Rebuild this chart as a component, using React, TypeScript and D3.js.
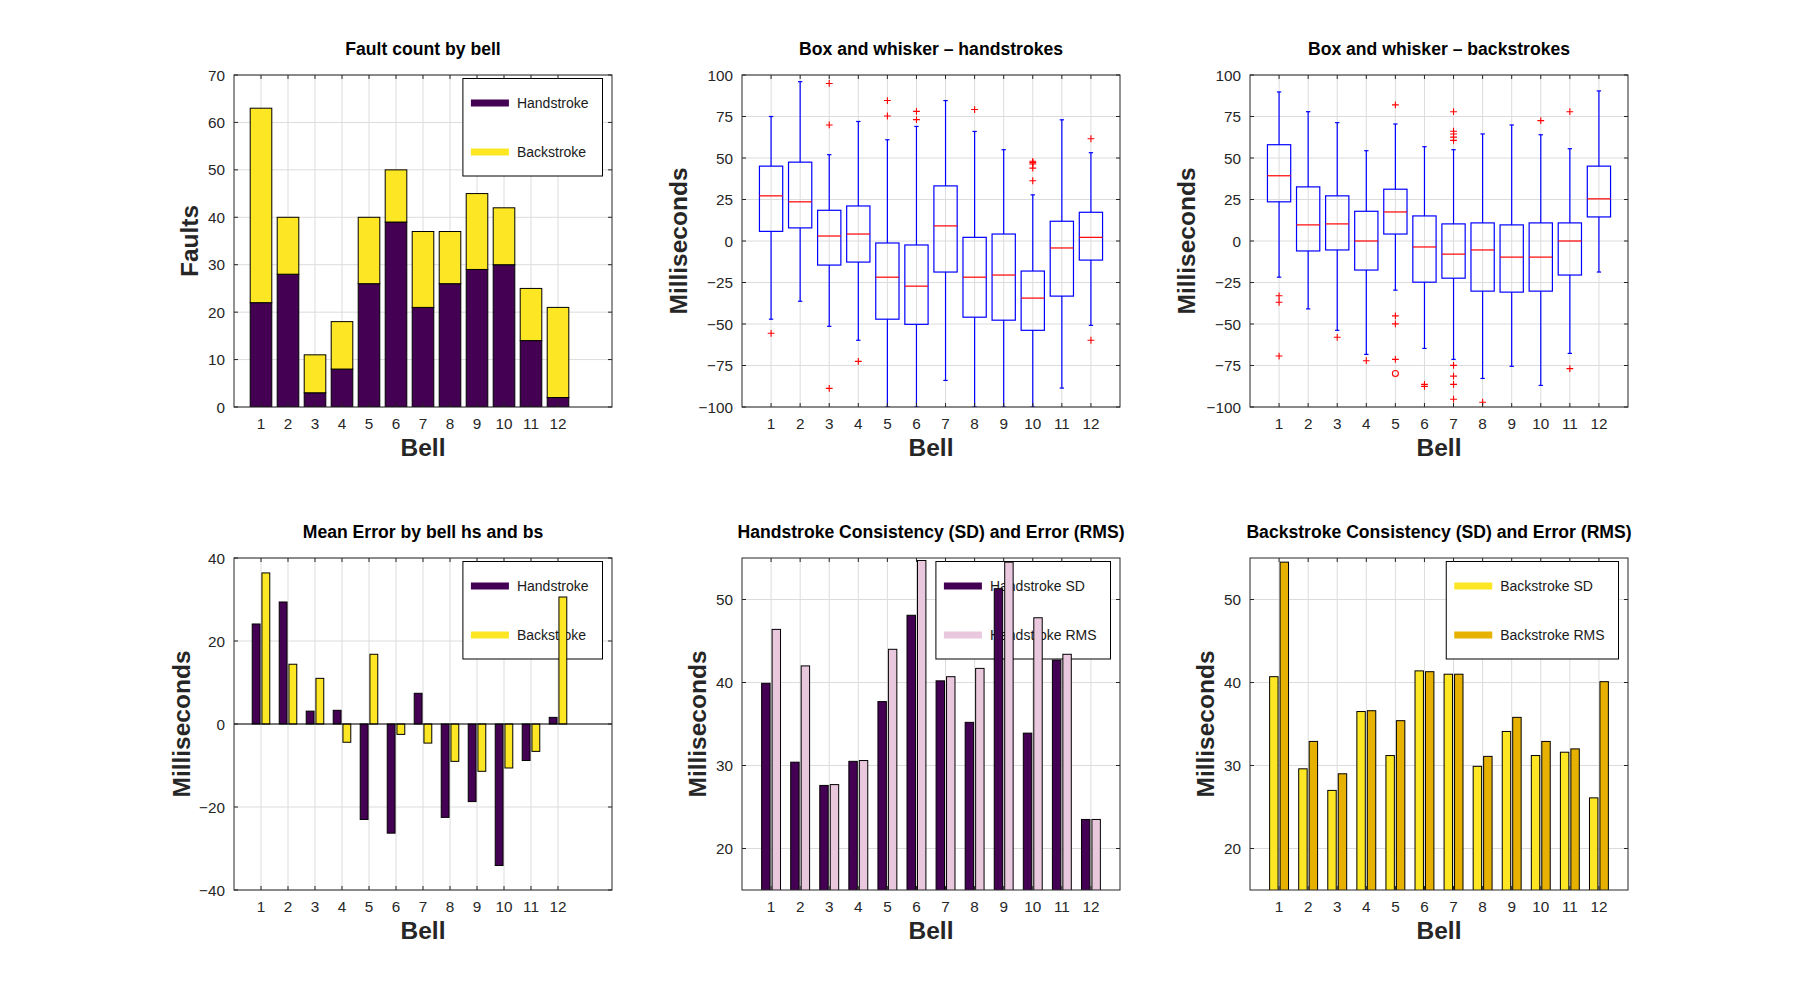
import React, { useRef, useEffect } from 'react';
import * as d3 from 'd3';

// ---- data ----
const bells = [1, 2, 3, 4, 5, 6, 7, 8, 9, 10, 11, 12];

// fault counts (stacked)
const faultHand = [22, 28, 3, 8, 26, 39, 21, 26, 29, 30, 14, 2];
const faultBack = [41, 12, 8, 10, 14, 11, 16, 11, 16, 12, 11, 19];

// box and whisker - handstrokes
const hsWhiskHi = [75, 96, 52, 72, 61, 69, 84.6, 66, 55, 27.8, 73, 53.2];
const hsQ3 = [45.1, 47.5, 18.5, 21.1, -1.2, -2.4, 33.2, 2.2, 4.2, -18.1, 11.9, 17.3];
const hsMed = [27.2, 23.6, 3.0, 4.2, -21.8, -27.2, 9.1, -21.8, -20.5, -34.4, -4.2, 2.2];
const hsQ1 = [5.8, 7.9, -14.5, -12.7, -47.1, -50.2, -18.7, -45.9, -47.7, -53.8, -33.2, -11.5];
const hsWhiskLo = [-47.1, -36.3, -51.4, -59.8, -100, -100, -84, -100, -100, -100, -88.6, -50.8];
const hsOutliers = [
  [-55.6], [], [94.9, 69.9, -88.8], [-72.5], [84.6, 75.3], [78.1, 73.1],
  [], [79.2], [], [48, 47.2, 46.4, 43.9, 36.3], [], [61.6, -59.8],
];
const hsFarOutliers: number[][] = [[], [], [], [], [], [], [], [], [], [], [], []];

// box and whisker - backstrokes
const bsWhiskHi = [89.8, 77.9, 71.3, 54.4, 70.5, 56.8, 55, 64.5, 69.9, 64, 55.6, 90.4];
const bsQ3 = [58, 32.6, 27.2, 17.9, 31.2, 15.1, 10.3, 10.9, 9.7, 10.9, 10.9, 45.1];
const bsMed = [39.3, 9.7, 10.3, 0, 17.5, -3.6, -7.9, -5.4, -9.7, -9.7, 0, 25.4];
const bsQ1 = [23.6, -6.0, -5.4, -17.5, 4.2, -24.8, -22.4, -30.2, -30.8, -30.2, -20.5, 14.5];
const bsWhiskLo = [-21.8, -40.9, -53.8, -68.3, -29.6, -64.7, -71.3, -82.8, -75.5, -87, -67.7, -18.7];
const bsOutliers = [
  [-33, -36.9, -69.3], [], [-58], [-72.1], [82, -45.1, -49.9, -71.3], [-86.4, -87.6],
  [77.9, 66.1, 64.5, 62.6, 60.6, -74.9, -81.4, -86.4, -95.3], [-97.1], [], [72.5], [77.9, -76.9], [],
];
const bsFarOutliers = [[], [], [], [], [-79.8], [], [], [], [], [], [], []];

// mean error
const meanHand = [24.1, 29.4, 3.1, 3.3, -23.0, -26.3, 7.4, -22.5, -18.7, -34.1, -8.8, 1.6];
const meanBack = [36.4, 14.4, 11.0, -4.4, 16.8, -2.5, -4.6, -9.0, -11.4, -10.6, -6.6, 30.6];

// consistency
const hsSD = [39.9, 30.4, 27.6, 30.5, 37.7, 48.1, 40.2, 35.2, 51.3, 33.9, 42.7, 23.5];
const hsRMS = [46.4, 42.0, 27.7, 30.6, 44.0, 54.7, 40.7, 41.7, 54.5, 47.8, 43.4, 23.5];
const bsSD = [40.7, 29.6, 27.0, 36.5, 31.2, 41.4, 41.0, 29.9, 34.1, 31.2, 31.6, 26.1];
const bsRMS = [54.5, 32.9, 29.0, 36.6, 35.4, 41.3, 41.0, 31.1, 35.8, 32.9, 32.0, 40.1];

// axis ticks
const faultTicks = [0, 10, 20, 30, 40, 50, 60, 70];
const boxTicks = [-100, -75, -50, -25, 0, 25, 50, 75, 100];
const meanTicks = [-40, -20, 0, 20, 40];
const sdTicks = [20, 30, 40, 50];

// ---- style ----
const FONT = '"Liberation Sans", Arial, Helvetica, sans-serif';
const AX = '#262626';
const GRID = '#dcdcdc';
const PURPLE = '#440154';
const YELLOW = '#fde725';
const PINK = '#e9c8de';
const GOLD = '#e6b100';

const colLeft = [234, 742, 1250];
const rowTop = [75, 558];
const PW = 378;
const PH = 332;

let measureCtx: CanvasRenderingContext2D | null = null;
function textWidth(s: string, font: string) {
  if (!measureCtx) measureCtx = document.createElement('canvas').getContext('2d');
  measureCtx!.font = font;
  return measureCtx!.measureText(s).width;
}

function makePanel(svg: any, id: string, col: number, row: number, xMax: number,
  yDomain: [number, number], yTicks: number[], title: string, ylabel: string, ylabelOff: number) {
  const left = colLeft[col], top = rowTop[row];
  const right = left + PW, bottom = top + PH;
  const x = d3.scaleLinear().domain([0, xMax]).range([left, right]);
  const y = d3.scaleLinear().domain(yDomain).range([bottom, top]);

  svg.append('clipPath').attr('id', id)
    .append('rect').attr('x', left).attr('y', top).attr('width', PW).attr('height', PH);

  const root = svg.append('g');
  const grid = root.append('g');
  grid.selectAll('line.gx').data(bells).join('line').attr('class', 'gx')
    .attr('x1', (d: number) => x(d)).attr('x2', (d: number) => x(d))
    .attr('y1', top).attr('y2', bottom).attr('stroke', GRID);
  grid.selectAll('line.gy').data(yTicks).join('line').attr('class', 'gy')
    .attr('x1', left).attr('x2', right)
    .attr('y1', (d: number) => y(d)).attr('y2', (d: number) => y(d)).attr('stroke', GRID);

  const legend = root.append('g');
  const data = root.append('g').attr('clip-path', `url(#${id})`);
  const axis = root.append('g');

  // ticks, inward on all four sides
  const tl = 4;
  axis.selectAll('line.tb').data(bells).join('line').attr('class', 'tb')
    .attr('x1', (d: number) => x(d)).attr('x2', (d: number) => x(d))
    .attr('y1', bottom).attr('y2', bottom - tl).attr('stroke', AX);
  axis.selectAll('line.tt').data(bells).join('line').attr('class', 'tt')
    .attr('x1', (d: number) => x(d)).attr('x2', (d: number) => x(d))
    .attr('y1', top).attr('y2', top + tl).attr('stroke', AX);
  axis.selectAll('line.tl').data(yTicks).join('line').attr('class', 'tl')
    .attr('x1', left).attr('x2', left + tl)
    .attr('y1', (d: number) => y(d)).attr('y2', (d: number) => y(d)).attr('stroke', AX);
  axis.selectAll('line.tr').data(yTicks).join('line').attr('class', 'tr')
    .attr('x1', right).attr('x2', right - tl)
    .attr('y1', (d: number) => y(d)).attr('y2', (d: number) => y(d)).attr('stroke', AX);
  axis.append('rect').attr('x', left).attr('y', top).attr('width', PW).attr('height', PH)
    .attr('fill', 'none').attr('stroke', AX);

  // tick labels
  const fmt = d3.format('');
  axis.selectAll('text.xl').data(bells).join('text').attr('class', 'xl')
    .attr('x', (d: number) => x(d)).attr('y', bottom + 22)
    .attr('text-anchor', 'middle').attr('font-size', 15.3).attr('fill', AX)
    .text((d: number) => String(d));
  axis.selectAll('text.yl').data(yTicks).join('text').attr('class', 'yl')
    .attr('x', left - 9).attr('y', (d: number) => y(d)).attr('dy', '0.36em')
    .attr('text-anchor', 'end').attr('font-size', 15.3).attr('fill', AX)
    .text((d: number) => fmt(d));

  // labels
  axis.append('text').attr('x', (left + right) / 2).attr('y', bottom + 48.5)
    .attr('text-anchor', 'middle').attr('font-size', 24.5).attr('font-weight', 'bold')
    .attr('fill', AX).text('Bell');
  axis.append('text')
    .attr('transform', `translate(${left - ylabelOff},${(top + bottom) / 2}) rotate(-90)`)
    .attr('text-anchor', 'middle').attr('dy', '0.36em').attr('font-size', 24.5)
    .attr('font-weight', 'bold').attr('fill', AX).text(ylabel);
  axis.append('text').attr('x', (left + right) / 2).attr('y', top - 20)
    .attr('text-anchor', 'middle').attr('font-size', 17.6).attr('font-weight', 'bold')
    .attr('fill', '#000').text(title);

  return { x, y, legend, data, left, right, top, bottom };
}

function drawLegend(p: any, items: { label: string; color: string }[]) {
  const font = `14px ${FONT}`;
  const w = 68 + (d3.max(items, d => textWidth(d.label, font)) || 0);
  const lx = p.right - 9.5 - w;
  const ly = p.top + 3.5;
  p.legend.append('rect').attr('x', lx).attr('y', ly).attr('width', w).attr('height', 97.5)
    .attr('fill', '#fff').attr('stroke', '#000');
  items.forEach((it, i) => {
    const cy = ly + 24.5 + i * 49;
    p.legend.append('rect').attr('x', lx + 8).attr('y', cy - 3.5).attr('width', 38).attr('height', 7)
      .attr('fill', it.color);
    p.legend.append('text').attr('x', lx + 54).attr('y', cy).attr('dy', '0.36em')
      .attr('font-size', 14).attr('fill', '#1a1a1a').text(it.label);
  });
}

function groupedBars(p: any, a: number[], b: number[], ca: string, cb: string) {
  const off = 0.18, bw = 0.29;
  [[a, ca, -off], [b, cb, off]].forEach(([vals, color, o]: any) => {
    p.data.selectAll(null).data(vals).join('rect')
      .attr('x', (_: number, i: number) => p.x(bells[i] + o - bw / 2))
      .attr('width', p.x(bw) - p.x(0))
      .attr('y', (d: number) => p.y(Math.max(0, d)))
      .attr('height', (d: number) => Math.abs(p.y(d) - p.y(0)))
      .attr('fill', color).attr('stroke', '#000').attr('stroke-width', 1);
  });
}

function boxes(p: any, lo: number[], q1: number[], med: number[], q3: number[], hi: number[],
  outs: number[][], far: number[][]) {
  const g = p.data;
  const hw = 0.4, cw = 0.075;
  const blue = '#0000ff', red = '#ff0000';
  bells.forEach((b, i) => {
    const cx = p.x(b);
    // whiskers
    g.append('line').attr('x1', cx).attr('x2', cx).attr('y1', p.y(q3[i])).attr('y2', p.y(hi[i]))
      .attr('stroke', blue).attr('stroke-width', 1.2);
    g.append('line').attr('x1', cx).attr('x2', cx).attr('y1', p.y(q1[i])).attr('y2', p.y(lo[i]))
      .attr('stroke', blue).attr('stroke-width', 1.2);
    [hi[i], lo[i]].forEach(v => {
      g.append('line').attr('x1', p.x(b - cw)).attr('x2', p.x(b + cw)).attr('y1', p.y(v)).attr('y2', p.y(v))
        .attr('stroke', blue).attr('stroke-width', 1.2);
    });
    g.append('rect').attr('x', p.x(b - hw)).attr('width', p.x(b + hw) - p.x(b - hw))
      .attr('y', p.y(q3[i])).attr('height', p.y(q1[i]) - p.y(q3[i]))
      .attr('fill', 'none').attr('stroke', blue).attr('stroke-width', 1.2);
    g.append('line').attr('x1', p.x(b - hw)).attr('x2', p.x(b + hw)).attr('y1', p.y(med[i])).attr('y2', p.y(med[i]))
      .attr('stroke', red).attr('stroke-width', 1.2);
    outs[i].forEach(v => {
      const cy = p.y(v), s = 3.4;
      g.append('path').attr('d', `M${cx - s},${cy}H${cx + s}M${cx},${cy - s}V${cy + s}`)
        .attr('stroke', red).attr('stroke-width', 1.1).attr('fill', 'none');
    });
    far[i].forEach(v => {
      g.append('circle').attr('cx', cx).attr('cy', p.y(v)).attr('r', 3)
        .attr('stroke', red).attr('stroke-width', 1.1).attr('fill', 'none');
    });
  });
}

export default function App() {
  const ref = useRef<SVGSVGElement | null>(null);

  useEffect(() => {
    if (!ref.current) return;
    const svg = d3.select(ref.current);
    svg.selectAll('*').remove();

    // 1. fault count (stacked)
    const p1 = makePanel(svg, 'c1', 0, 0, 14, [0, 70], faultTicks, 'Fault count by bell', 'Faults', 45);
    drawLegend(p1, [{ label: 'Handstroke', color: PURPLE }, { label: 'Backstroke', color: YELLOW }]);
    const bw = 0.8;
    p1.data.selectAll('rect.hs').data(faultHand).join('rect').attr('class', 'hs')
      .attr('x', (_: number, i: number) => p1.x(bells[i] - bw / 2)).attr('width', p1.x(bw) - p1.x(0))
      .attr('y', (d: number) => p1.y(d)).attr('height', (d: number) => p1.y(0) - p1.y(d))
      .attr('fill', PURPLE).attr('stroke', '#000');
    p1.data.selectAll('rect.bs').data(faultBack).join('rect').attr('class', 'bs')
      .attr('x', (_: number, i: number) => p1.x(bells[i] - bw / 2)).attr('width', p1.x(bw) - p1.x(0))
      .attr('y', (d: number, i: number) => p1.y(d + faultHand[i]))
      .attr('height', (d: number, i: number) => p1.y(faultHand[i]) - p1.y(d + faultHand[i]))
      .attr('fill', YELLOW).attr('stroke', '#000');

    // 2. box - handstrokes
    const p2 = makePanel(svg, 'c2', 1, 0, 13, [-100, 100], boxTicks, 'Box and whisker \u2013 handstrokes', 'Milliseconds', 64);
    boxes(p2, hsWhiskLo, hsQ1, hsMed, hsQ3, hsWhiskHi, hsOutliers, hsFarOutliers);

    // 3. box - backstrokes
    const p3 = makePanel(svg, 'c3', 2, 0, 13, [-100, 100], boxTicks, 'Box and whisker \u2013 backstrokes', 'Milliseconds', 64);
    boxes(p3, bsWhiskLo, bsQ1, bsMed, bsQ3, bsWhiskHi, bsOutliers, bsFarOutliers);

    // 4. mean error
    const p4 = makePanel(svg, 'c4', 0, 1, 14, [-40, 40], meanTicks, 'Mean Error by bell hs and bs', 'Milliseconds', 53);
    drawLegend(p4, [{ label: 'Handstroke', color: PURPLE }, { label: 'Backstroke', color: YELLOW }]);
    groupedBars(p4, meanHand, meanBack, PURPLE, YELLOW);
    p4.data.append('line').attr('x1', p4.left).attr('x2', p4.right)
      .attr('y1', p4.y(0)).attr('y2', p4.y(0)).attr('stroke', '#000');

    // 5. handstroke SD / RMS
    const p5 = makePanel(svg, 'c5', 1, 1, 13, [15, 55], sdTicks, 'Handstroke Consistency (SD) and Error (RMS)', 'Milliseconds', 45);
    drawLegend(p5, [{ label: 'Handstroke SD', color: PURPLE }, { label: 'Handstroke RMS', color: PINK }]);
    groupedBars(p5, hsSD, hsRMS, PURPLE, PINK);

    // 6. backstroke SD / RMS
    const p6 = makePanel(svg, 'c6', 2, 1, 13, [15, 55], sdTicks, 'Backstroke Consistency (SD) and Error (RMS)', 'Milliseconds', 45);
    drawLegend(p6, [{ label: 'Backstroke SD', color: YELLOW }, { label: 'Backstroke RMS', color: GOLD }]);
    groupedBars(p6, bsSD, bsRMS, YELLOW, GOLD);
  }, []);

  return (
    <div style={{ position: 'absolute', left: 0, top: 0, background: '#fff' }}>
      <svg ref={ref} width={1800} height={1000} style={{ display: 'block', fontFamily: FONT }} />
    </div>
  );
}
